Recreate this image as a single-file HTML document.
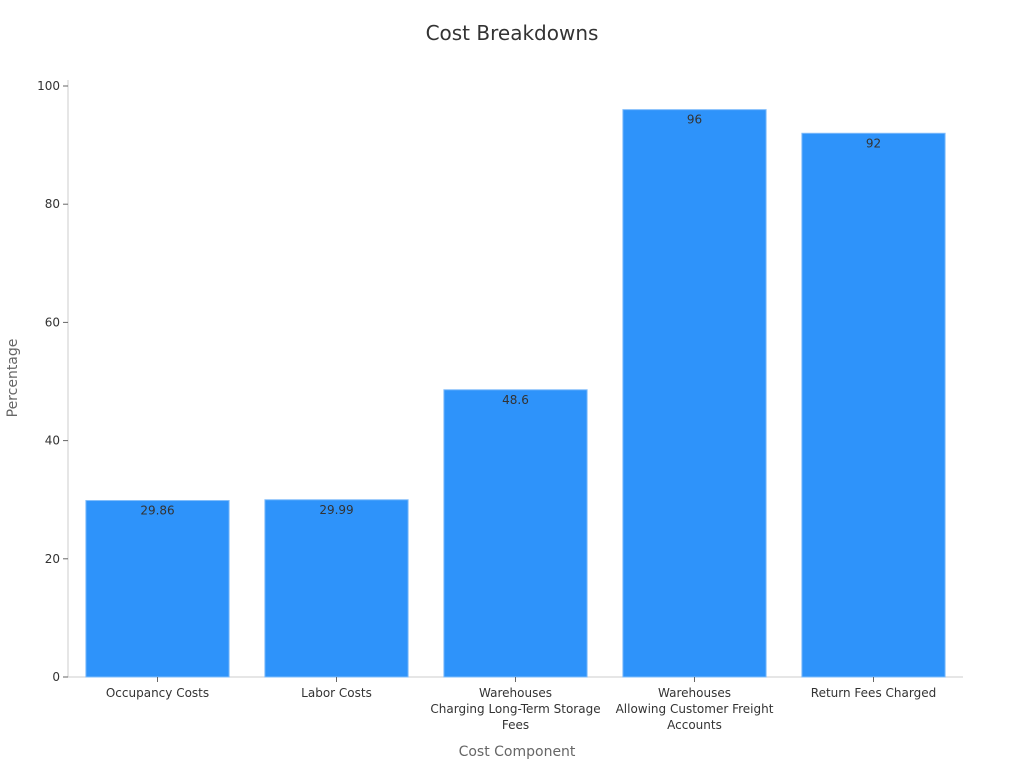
<!DOCTYPE html>
<html><head><meta charset="utf-8"><style>
body{margin:0;background:#fff;}
svg{display:block;font-family:"DejaVu Sans","Liberation Sans",sans-serif;}
</style></head><body>
<svg id="chart" width="1024" height="768">
<text x="512" y="40" text-anchor="middle" font-size="20" fill="#333">Cost Breakdowns</text>
<text x="517" y="756" text-anchor="middle" font-size="14" fill="#666">Cost Component</text>
<text transform="translate(17,378) rotate(-90)" text-anchor="middle" font-size="14" fill="#666">Percentage</text>
<g id="grid"></g><g id="bars"></g>
</svg>
<script>
const categories=[["Occupancy Costs"],["Labor Costs"],["Warehouses","Charging Long-Term Storage","Fees"],["Warehouses","Allowing Customer Freight","Accounts"],["Return Fees Charged"]];
const values=[29.86,29.99,48.6,96,92];
const valueLabels=["29.86","29.99","48.6","96","92"];
const yTicks=[0,20,40,60,80,100];
const NS="http://www.w3.org/2000/svg";
const X0=68,X1=963,Y0=677,Y1=86,yMax=100;
const y=v=>Y0-(v/yMax)*(Y0-Y1);
const band=(X1-X0)/categories.length;
const x=i=>X0+band*i;
function mk(t,a,p){const e=document.createElementNS(NS,t);for(const k in a)e.setAttribute(k,a[k]);p.appendChild(e);return e;}
const g=document.getElementById('grid'),b=document.getElementById('bars');
const ya=mk('line',{x1:X0,x2:X0,y1:Y1-6,y2:Y0,stroke:'#ccc'},g);


const xa=mk('line',{x1:X0,x2:X1,y1:Y0,y2:Y0,stroke:'#ccc'},g);


yTicks.forEach(t=>{
 mk('line',{x1:X0-5,x2:X0,y1:y(t),y2:y(t),stroke:'#666'},g);
 const tx=mk('text',{x:X0-8,y:y(t)+4,'text-anchor':'end','font-size':12,fill:'#333'},g);
 tx.textContent=t;
 
 
});
values.forEach((v,i)=>{
 const bw=band*0.8,bx=x(i)+band*0.1;
 const r=mk('rect',{x:bx,y:y(v),width:bw,height:Y0-y(v),fill:'#2e93fa',stroke:'#7fbcfb','stroke-width':1},b);
 
 
 const lt=mk('text',{x:x(i)+band/2,y:y(v)+14,'text-anchor':'middle','font-size':12,fill:'#333'},b);
 lt.textContent=valueLabels[i];
 
 
 mk('line',{x1:x(i)+band/2,x2:x(i)+band/2,y1:Y0,y2:Y0+5,stroke:'#666'},b);
 categories[i].forEach((ln,j)=>{
  const ct=mk('text',{x:x(i)+band/2,y:Y0+20+j*16,'text-anchor':'middle','font-size':12,fill:'#333'},b);
  ct.textContent=ln;
  
  
 });
});
</script>
</body></html>
